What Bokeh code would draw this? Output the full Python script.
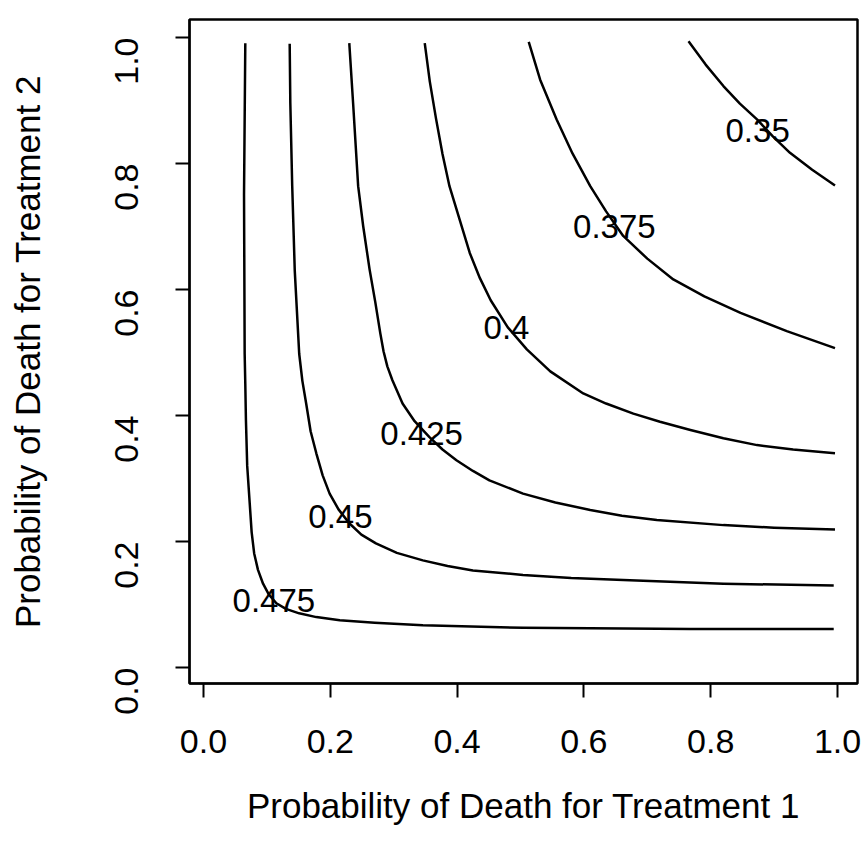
from bokeh.plotting import figure
from bokeh.models import Range1d, FixedTicker, ColumnDataSource
from bokeh.core.properties import value
from bokeh.embed import file_html
from bokeh.resources import INLINE
import math

# ---- data ----
tick_values = [0.0, 0.2, 0.4, 0.6, 0.8, 1.0]
tick_labels = ["0.0", "0.2", "0.4", "0.6", "0.8", "1.0"]

c350_x = [0.765, 0.792, 0.820, 0.846, 0.873, 0.898, 0.925, 0.960, 0.996]
c350_y = [0.994, 0.957, 0.923, 0.895, 0.870, 0.843, 0.817, 0.790, 0.765]

c375_x = [0.513, 0.531, 0.557, 0.582, 0.610, 0.635, 0.662, 0.700, 0.741, 0.790, 0.847, 0.920, 0.996]
c375_y = [0.993, 0.933, 0.870, 0.816, 0.764, 0.724, 0.685, 0.649, 0.616, 0.589, 0.563, 0.534, 0.507]

c400_x = [0.349, 0.357, 0.367, 0.377, 0.388, 0.420, 0.436, 0.453, 0.480, 0.510, 0.547,
          0.599, 0.635, 0.678, 0.720, 0.768, 0.820, 0.873, 0.930, 0.996]
c400_y = [0.991, 0.930, 0.870, 0.815, 0.764, 0.658, 0.618, 0.583, 0.540, 0.505, 0.470,
          0.435, 0.419, 0.403, 0.390, 0.377, 0.364, 0.353, 0.346, 0.340]

c425_x = [0.230, 0.236, 0.244, 0.252, 0.262, 0.271, 0.279, 0.284, 0.290, 0.298, 0.314, 0.333,
          0.356, 0.377, 0.399, 0.425, 0.451, 0.504, 0.555, 0.610, 0.660, 0.715, 0.820, 0.900, 0.996]
c425_y = [0.991, 0.896, 0.764, 0.700, 0.632, 0.580, 0.530, 0.502, 0.478, 0.456, 0.419, 0.391,
          0.366, 0.346, 0.329, 0.312, 0.297, 0.276, 0.262, 0.250, 0.241, 0.234, 0.226, 0.222, 0.219]

c450_x = [0.136, 0.137, 0.140, 0.144, 0.151, 0.156, 0.162, 0.169, 0.178, 0.188, 0.199,
          0.213, 0.230, 0.249, 0.272, 0.305, 0.346, 0.385, 0.425, 0.504, 0.580, 0.662, 0.820, 0.994]
c450_y = [0.990, 0.896, 0.764, 0.630, 0.498, 0.455, 0.419, 0.375, 0.340, 0.305, 0.276,
          0.251, 0.229, 0.211, 0.197, 0.182, 0.170, 0.161, 0.154, 0.147, 0.142, 0.139, 0.133, 0.130]

c475_x = [0.066, 0.064, 0.065, 0.066, 0.067, 0.069, 0.073, 0.076, 0.080, 0.086, 0.094,
          0.103, 0.115, 0.130, 0.151, 0.178, 0.215, 0.270, 0.346, 0.504, 0.768, 0.994]
c475_y = [0.991, 0.750, 0.498, 0.450, 0.393, 0.320, 0.260, 0.215, 0.181, 0.155, 0.133,
          0.116, 0.102, 0.093, 0.086, 0.080, 0.075, 0.071, 0.067, 0.063, 0.061, 0.061]

contour_labels = ["0.35", "0.375", "0.4", "0.425", "0.45", "0.475"]
label_x = [0.874, 0.648, 0.478, 0.344, 0.216, 0.111]
label_y = [0.852, 0.700, 0.540, 0.371, 0.239, 0.107]

x_title = "Probability of Death for Treatment 1"
y_title = "Probability of Death for Treatment 2"

FONT = "Liberation Sans"

p = figure(width=867, height=862, output_backend="svg", toolbar_location=None,
           x_range=Range1d(-0.022, 1.0315), y_range=Range1d(-0.0254, 1.0286),
           min_border_left=189, min_border_right=10, min_border_top=19, min_border_bottom=179)

p.background_fill_color = "white"
p.border_fill_color = "white"
p.outline_line_color = "black"
p.outline_line_width = 2.5
p.xgrid.visible = False
p.ygrid.visible = False

for xs, ys in [(c350_x, c350_y), (c375_x, c375_y), (c400_x, c400_y),
               (c425_x, c425_y), (c450_x, c450_y), (c475_x, c475_y)]:
    p.line(xs, ys, line_color="black", line_width=2.5, line_join="round")

src = ColumnDataSource(dict(x=label_x, y=label_y, t=contour_labels))
p.text(x="x", y="y", text="t", source=src, text_font=value(FONT),
       text_font_size="33px", text_align="center", text_baseline="middle",
       text_color="black")

for ax in (p.xaxis[0], p.yaxis[0]):
    ax.ticker = FixedTicker(ticks=tick_values)
    ax.major_label_overrides = {v: l for v, l in zip(tick_values, tick_labels)}
    ax.major_label_text_font = FONT
    ax.major_label_text_font_size = "34px"
    ax.major_label_text_color = "black"
    ax.axis_label_text_font = FONT
    ax.axis_label_text_font_size = "35px"
    ax.axis_label_text_font_style = "normal"
    ax.axis_label_text_color = "black"
    ax.axis_line_color = "black"
    ax.axis_line_width = 2
    ax.major_tick_line_color = "black"
    ax.major_tick_line_width = 2
    ax.major_tick_out = 14
    ax.major_tick_in = 0
    ax.minor_tick_line_color = None

p.xaxis.axis_label = x_title
p.yaxis.axis_label = y_title
p.xaxis.major_label_standoff = 32
p.xaxis.axis_label_standoff = 30
p.yaxis.major_label_standoff = 49
p.yaxis.major_label_orientation = math.pi / 2
p.yaxis.axis_label_standoff = 54

open("out.html", "w").write(file_html(p, INLINE))
